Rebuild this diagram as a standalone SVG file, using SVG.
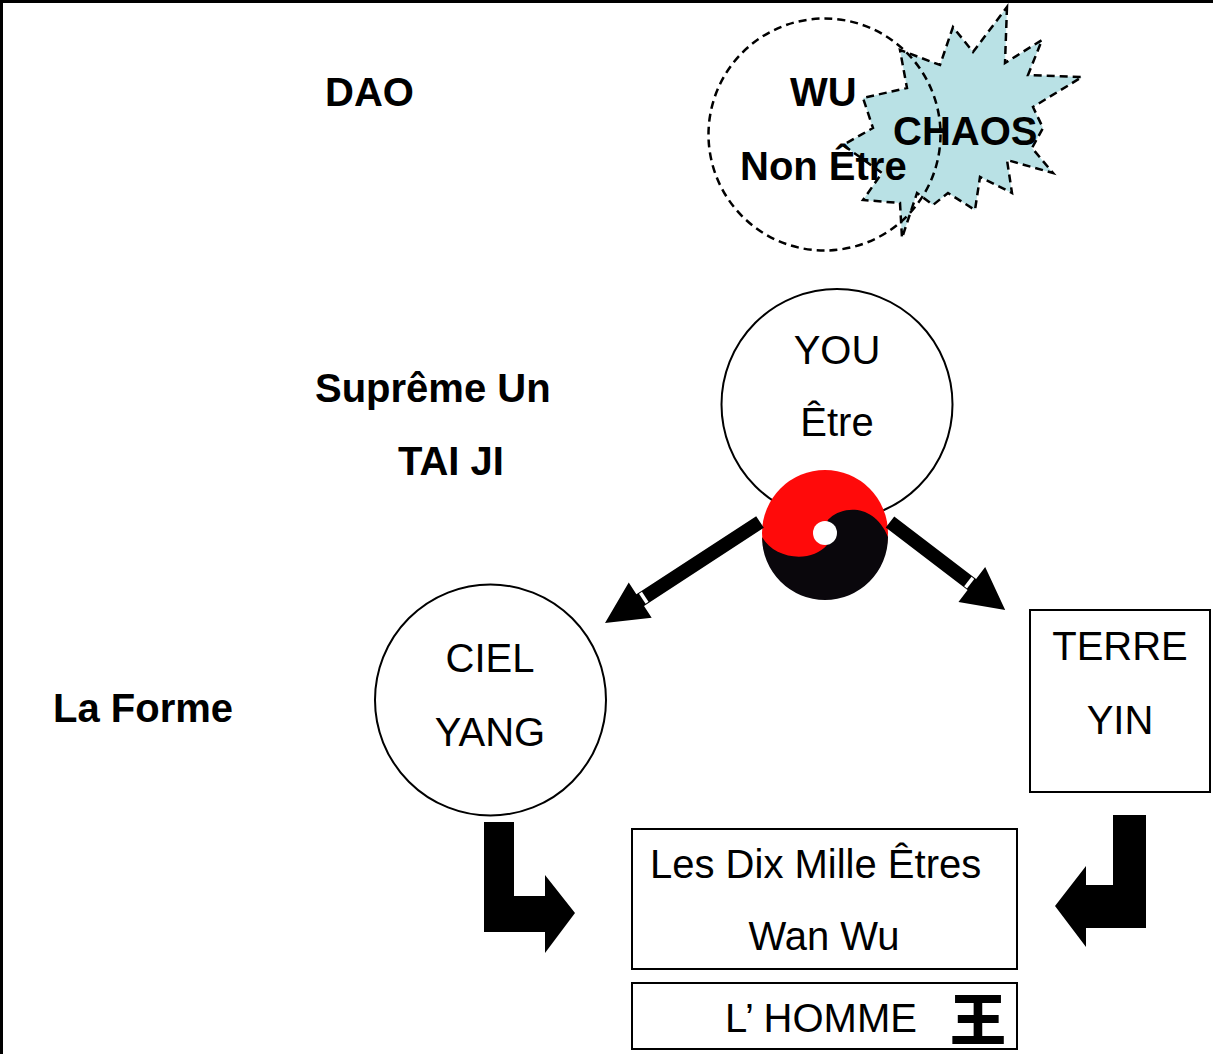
<svg xmlns="http://www.w3.org/2000/svg" width="1213" height="1054" viewBox="0 0 1213 1054">
<style>
.b{font-family:"Liberation Sans",Arial,sans-serif;font-weight:bold;font-size:40px;fill:#000}
.r{font-family:"Liberation Sans",Arial,sans-serif;font-size:40px;fill:#000}
.m{text-anchor:middle}
.shape{fill:#fff;stroke:#000;stroke-width:2}
.dash{fill:none;stroke:#000;stroke-width:2.5;stroke-dasharray:8 5}
.arr{fill:#000;stroke:none}
</style>
<rect x="0" y="0" width="1213" height="1054" fill="#fff"/>
<g id="frame"><line x1="0" y1="1.5" x2="1213" y2="1.5" stroke="#000" stroke-width="3"/><line x1="1.5" y1="0" x2="1.5" y2="1054" stroke="#000" stroke-width="3"/></g>
<g id="labels">
<text class="b" x="325" y="106">DAO</text>
<text class="b" x="315" y="402">Suprême Un</text>
<text class="b" x="398" y="475">TAI JI</text>
<text class="b" x="53" y="722">La Forme</text>
</g>
<g id="chaos">
<polygon points="1007,7 1005,63 1042,40 1028,75 1082,77 1033,107 1043,128 1032,148 1053,173 1007,160 1012,193 980,177 975,210 948,193 933,205 917,193 902,238 900,203 863,200 882,173 843,145 873,128 863,98 907,88 900,50 940,65 953,27 973,52" fill="#b9e1e5" stroke="#000" stroke-width="2.5" stroke-dasharray="8 5"/>
</g>
<g id="wu">
<circle class="dash" cx="824.5" cy="134.5" r="116"/>
<text class="b" x="790" y="106">WU</text>
<text class="b" x="740" y="180">Non Être</text>
</g>
<text class="b" x="893" y="145">CHAOS</text>
<g id="you">
<circle class="shape" cx="837" cy="404.5" r="115.5"/>
<text class="r m" x="837" y="364">YOU</text>
<text class="r m" x="837" y="436">Être</text>
</g>
<g id="taiji">
<circle cx="825" cy="533" r="63" fill="#ff0a0a"/>
<path d="M762,537 C775,560 812,563 827,545 C835,535 822,522 830,518 C845,505 875,505 888,537 A63,63 0 0 1 762,537 Z" fill="#0a070c"/>
<circle cx="825" cy="533" r="12" fill="#fff"/>
</g>
<g id="ciel">
<circle class="shape" cx="490.5" cy="700" r="115.5"/>
<text class="r m" x="490" y="672">CIEL</text>
<text class="r m" x="490" y="746">YANG</text>
</g>
<g id="terre">
<rect class="shape" x="1030" y="610" width="180" height="182"/>
<text class="r m" x="1120" y="660">TERRE</text>
<text class="r m" x="1120" y="734">YIN</text>
</g>
<g id="wanwu">
<rect class="shape" x="632" y="829" width="385" height="140"/>
<text class="r" x="650" y="878">Les Dix Mille Êtres</text>
<text class="r m" x="824" y="950">Wan Wu</text>
</g>
<g id="homme">
<rect class="shape" x="632" y="983" width="385" height="66"/>
<text class="r" x="725" y="1032">L’ HOMME</text>
<text x="978" y="1040" text-anchor="middle" style="font-family:'Noto Sans CJK SC','Noto Sans CJK JP',sans-serif;font-weight:900;font-size:56px;fill:#000">王</text>
</g>
<g id="connectors">
<g transform="translate(760,522) rotate(146.9)">
<polygon class="arr" points="0,-7 143,-7 143,-21 185,0 143,21 143,7 0,7"/>
<rect x="137" y="-6" width="3.5" height="12" fill="#fff"/>
</g>
<g transform="translate(890,522) rotate(37.4)">
<polygon class="arr" points="0,-7 103,-7 103,-22 145,0 103,22 103,7 0,7"/>
<rect x="98" y="-6" width="3.5" height="12" fill="#fff"/>
</g>
<polygon class="arr" points="484,822 514,822 514,896 545,896 545,875 575,913 545,953 545,932 484,932"/>
<polygon class="arr" points="1113,815 1146,815 1146,928 1086,928 1086,947 1055,906 1086,866 1086,885 1113,885"/>
</g>
</svg>
